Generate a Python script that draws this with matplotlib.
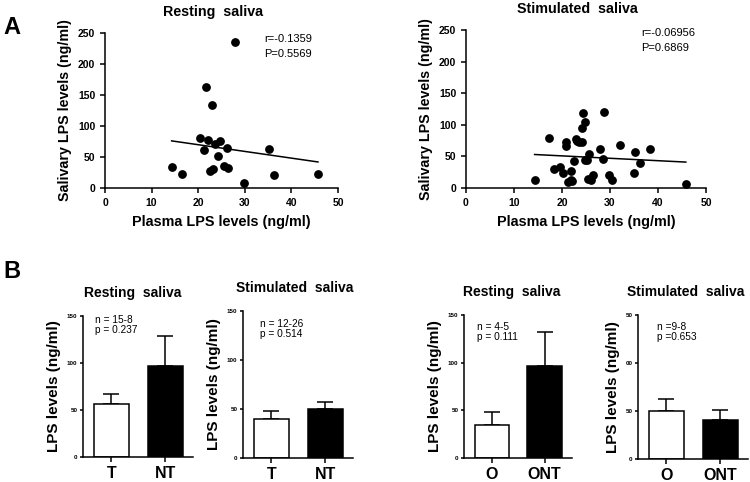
import matplotlib
matplotlib.use('Agg')
import matplotlib.pyplot as plt

plt.rcParams['font.family'] = ['Liberation Sans', 'DejaVu Sans']

# ---- panel A data ----
rest_plasma = [28.0, 21.7, 22.9, 20.3, 22.1, 24.7, 23.6, 21.2, 26.1, 24.3,
               35.2, 14.3, 16.5, 22.5, 23.1, 25.5, 26.5, 29.9, 36.2, 45.7]
rest_saliva = [235, 163, 134, 80, 77, 76, 71, 62, 64, 51,
               63, 34, 23, 27, 30, 36, 33, 8.6, 21, 23]
rest_fit_x = [14.3, 45.7]
rest_fit_y = [76, 42]
rest_stats = ['r=-0.1359', 'P=0.5569']

stim_plasma = [14.3, 17.3, 18.4, 19.6, 20.2, 20.9, 20.9, 21.8, 21.3, 21.8,
               22.1, 22.5, 22.9, 23.2, 23.6, 24.1, 24.3, 24.8, 24.2, 24.8,
               25.3, 25.6, 25.4, 26.1, 26.4, 28.7, 28.0, 28.5, 29.8, 30.5,
               32.0, 35.3, 35.1, 36.2, 38.4, 45.8]
stim_saliva = [12, 79, 30, 34, 23, 72, 66, 27, 9.5, 12.7,
               11.6, 42, 77, 74, 73, 72, 119, 105, 95, 45,
               45, 54, 15, 12, 20, 119.5, 61, 46.5, 21, 12,
               68, 57, 24, 40, 61, 7]
stim_fit_x = [14.3, 45.8]
stim_fit_y = [53, 41]
stim_stats = ['r=-0.06956', 'P=0.6869']

# ---- panel B data ----
bar_titles = ['Resting  saliva', 'Stimulated  saliva', 'Resting  saliva', 'Stimulated  saliva']
bar_groups = [['T', 'NT'], ['T', 'NT'], ['O', 'ONT'], ['O', 'ONT']]
bar_means = [[56, 97], [40, 50], [35, 97], [50, 41]]
bar_errs = [[11, 32], [8, 7], [13, 35], [12, 10]]
bar_notes = [['n = 15-8', 'p = 0.237'], ['n = 12-26', 'p = 0.514'],
             ['n = 4-5', 'p = 0.111'], ['n =9-8', 'p =0.653']]
bar_yticks = [0, 50, 100, 150]
bar_yticklabels = [['0', '50', '100', '150'], ['0', '50', '100', '150'],
                   ['0', '50', '100', '150'], ['0', '50', '00', '50']]

W, H = 750, 482
fig = plt.figure(figsize=(W / 100, H / 100), dpi=100)


def box(l, r, b, t):
    return [l / W, 1 - b / H, (r - l) / W, (b - t) / H]


def style(ax):
    for s in ['top', 'right']:
        ax.spines[s].set_visible(False)
    for s in ['left', 'bottom']:
        ax.spines[s].set_linewidth(1.1)
    ax.tick_params(width=1.1, length=3.5, direction='out')


def scatter_panel(rect, xs, ys, fx, fy, stats, title, sx, sy):
    ax = fig.add_axes(rect)
    style(ax)
    ax.scatter(xs, ys, s=28, color='black', zorder=3, clip_on=False)
    ax.plot(fx, fy, color='black', lw=1.1)
    ax.set_xlim(0, 50)
    ax.set_ylim(0, 250)
    ax.set_xticks([0, 10, 20, 30, 40, 50])
    ax.set_yticks([0, 50, 100, 150, 200, 250])
    for lab in ax.get_xticklabels() + ax.get_yticklabels():
        lab.set_fontsize(7.5)
        lab.set_fontweight('bold')
    ax.set_title(title, fontsize=10.3, fontweight='bold', pad=12, x=0.465)
    ax.set_xlabel('Plasma LPS levels (ng/ml)', fontsize=10.4, fontweight='bold', labelpad=5)
    ax.set_ylabel('Salivary LPS levels (ng/ml)', fontsize=10.3, fontweight='bold', labelpad=4)
    for i, t in enumerate(stats):
        fig.text(sx / W, 1 - (sy + i * 15) / H, t, fontsize=8, va='center')
    return ax


scatter_panel(box(105, 338, 188, 33), rest_plasma, rest_saliva, rest_fit_x, rest_fit_y,
              rest_stats, 'Resting  saliva', 264, 39)
scatter_panel(box(466, 706, 188, 30), stim_plasma, stim_saliva, stim_fit_x, stim_fit_y,
              stim_stats, 'Stimulated  saliva', 641, 33)

bar_rects = [box(83, 193, 457, 316), box(243, 353, 458, 311),
             box(464, 572, 458, 315), box(638, 748, 459, 315)]
title_x = [0.455, 0.468, 0.444, 0.436]
note_pos = [(95, 320), (260, 324), (477, 327), (657, 327)]

for k in range(4):
    ax = fig.add_axes(bar_rects[k])
    style(ax)
    xpos = [0, 1]
    ax.bar(xpos, bar_means[k], width=0.65, color=['white', 'black'],
           edgecolor='black', linewidth=1.1, zorder=2)
    ax.errorbar(xpos, bar_means[k], yerr=[[0, 0], bar_errs[k]], fmt='none',
                ecolor='black', elinewidth=1.1, capsize=6, capthick=1.1, zorder=1)
    ax.set_xlim(-0.53, 1.52)
    ax.set_ylim(0, 150)
    ax.set_xticks(xpos)
    ax.set_xticklabels(bar_groups[k], fontsize=11.5, fontweight='bold')
    ax.set_yticks(bar_yticks)
    ax.set_yticklabels(bar_yticklabels[k], fontsize=4.5, fontweight='bold')
    ax.tick_params(axis='y', length=2.5, pad=1.5)
    ax.tick_params(axis='x', length=3.5, pad=3)
    ax.set_title(bar_titles[k], fontsize=10, fontweight='bold', pad=14, x=title_x[k])
    ax.set_ylabel('LPS levels (ng/ml)', fontsize=11, fontweight='bold', labelpad=4)
    nx, ny = note_pos[k]
    for i, t in enumerate(bar_notes[k]):
        fig.text(nx / W, 1 - (ny + i * 10) / H, t, fontsize=7.3, va='center')

fig.text(3 / W, 1 - 27 / H, 'A', fontsize=17, fontweight='bold', va='center')
fig.text(3 / W, 1 - 271 / H, 'B', fontsize=17, fontweight='bold', va='center')

fig.savefig('out.png', dpi=100)
